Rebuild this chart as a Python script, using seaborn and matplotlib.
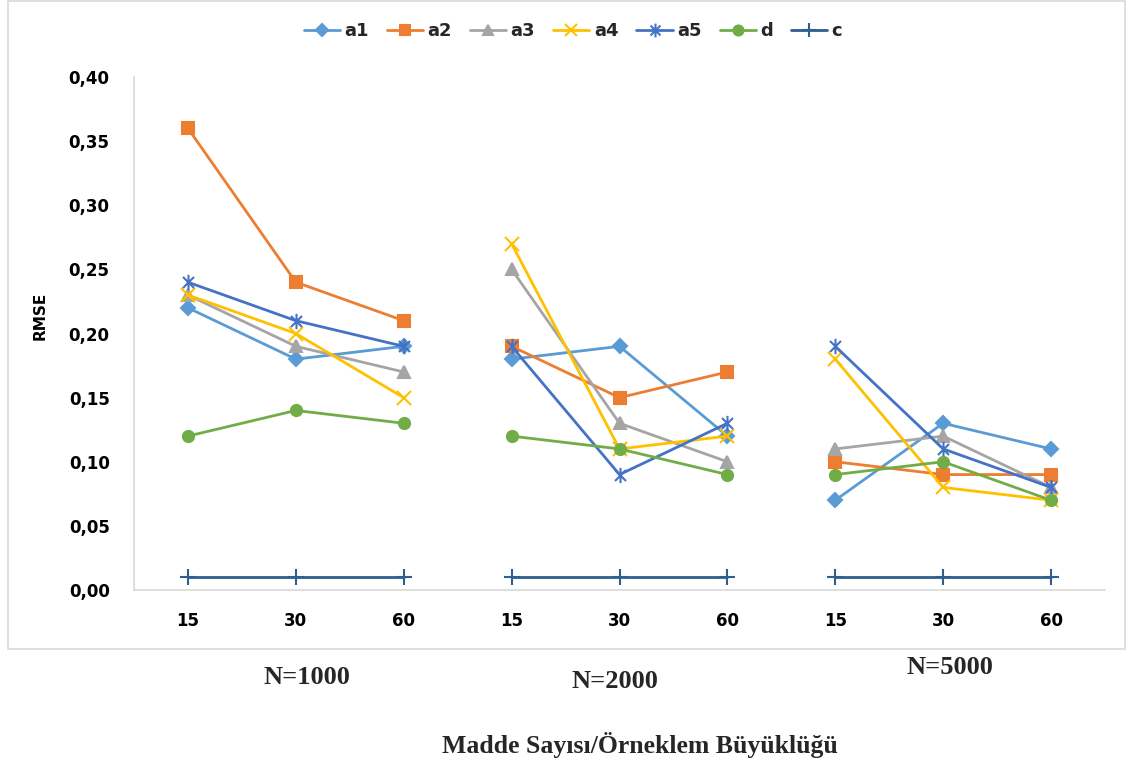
import matplotlib
matplotlib.use("Agg")
import matplotlib.pyplot as plt
from matplotlib.lines import Line2D
from matplotlib.patches import Rectangle
from matplotlib.path import Path
import numpy as np
import pandas as pd
import seaborn as sns

# Item counts within each sample-size group
items = ["15", "30", "60"]
groups = ["N=1000", "N=2000", "N=5000"]
series = ["a1", "a2", "a3", "a4", "a5", "d", "c"]

# RMSE values, one list per parameter: N=1000 | N=2000 | N=5000
a1 = [0.22, 0.18, 0.19, 0.18, 0.19, 0.12, 0.07, 0.13, 0.11]
a2 = [0.36, 0.24, 0.21, 0.19, 0.15, 0.17, 0.10, 0.09, 0.09]
a3 = [0.23, 0.19, 0.17, 0.25, 0.13, 0.10, 0.11, 0.12, 0.08]
a4 = [0.23, 0.20, 0.15, 0.27, 0.11, 0.12, 0.18, 0.08, 0.07]
a5 = [0.24, 0.21, 0.19, 0.19, 0.09, 0.13, 0.19, 0.11, 0.08]
d = [0.12, 0.14, 0.13, 0.12, 0.11, 0.09, 0.09, 0.10, 0.07]
c = [0.01, 0.01, 0.01, 0.01, 0.01, 0.01, 0.01, 0.01, 0.01]
y_ticks = [0.00, 0.05, 0.10, 0.15, 0.20, 0.25, 0.30, 0.35, 0.40]

# Asterisk marker: an "x" crossed by a vertical stroke
star = Path([(0, -1), (0, 1), (-0.72, -0.72), (0.72, 0.72), (-0.72, 0.72), (0.72, -0.72)],
            [Path.MOVETO, Path.LINETO, Path.MOVETO, Path.LINETO, Path.MOVETO, Path.LINETO])

values = {"a1": a1, "a2": a2, "a3": a3, "a4": a4, "a5": a5, "d": d, "c": c}
colors = {"a1": "#5B9BD5", "a2": "#ED7D31", "a3": "#A5A5A5", "a4": "#FFC000",
          "a5": "#4472C4", "d": "#70AD47", "c": "#2E5F8E"}
markers = {"a1": "D", "a2": "s", "a3": "^", "a4": "x", "a5": star,
           "d": "o", "c": "+"}
msizes = {"a1": 7, "a2": 8, "a3": 8.5, "a4": 10, "a5": 11, "d": 8, "c": 11}

rows = []
for s in series:
    for gi, g in enumerate(groups):
        for ii, it in enumerate(items):
            rows.append({"pos": gi * len(items) + ii, "group": g,
                         "series": s, "RMSE": values[s][gi * len(items) + ii]})
df = pd.DataFrame(rows)

sns.set_theme(style="white")
plt.rcParams["font.family"] = ["DejaVu Sans"]

fig = plt.figure(figsize=(11.28, 7.66), dpi=100)
ax = fig.add_axes([134 / 1128, 1 - 590 / 766, (1105 - 134) / 1128, (590 - 77) / 766])

# One seaborn call per series; units keep the three groups as separate lines
for s in series:
    n_before = len(ax.lines)
    sns.lineplot(data=df[df["series"] == s], x="pos", y="RMSE", units="group",
                 estimator=None, color=colors[s], marker=markers[s],
                 markersize=msizes[s], linewidth=2.0, legend=False, ax=ax)
    for ln in ax.lines[n_before:]:
        ln.set_markeredgecolor(colors[s])
        ln.set_markerfacecolor(colors[s])
        ln.set_markeredgewidth(1.5)

ax.set_xlim(-0.5, 8.5)
ax.set_ylim(0, 0.40)
ax.set_xticks(range(9))
ax.set_xticklabels(items * len(groups))
ax.set_yticks(y_ticks)
ax.set_yticklabels([f"{v:.2f}".replace(".", ",") for v in y_ticks])
ax.tick_params(axis="both", length=0, labelsize=12)
ax.tick_params(axis="y", pad=17.5)
ax.tick_params(axis="x", pad=16)
for lbl in ax.get_xticklabels() + ax.get_yticklabels():
    lbl.set_fontweight("bold")
    lbl.set_color("black")
ax.set_xlabel("")
ax.set_ylabel("")
for side in ["top", "right"]:
    ax.spines[side].set_visible(False)
for side in ["left", "bottom"]:
    ax.spines[side].set_color("#D9D9D9")
    ax.spines[side].set_linewidth(1.2)
ax.grid(False)

fig.text(40 / 1128, 1 - 316 / 766, "RMSE", rotation=90, ha="center", va="center",
         fontsize=11, fontweight="bold", color="black")

# Legend along the top
handles = [Line2D([0], [0], color=colors[s], marker=markers[s], markersize=msizes[s] * 0.9,
                  markeredgecolor=colors[s], markerfacecolor=colors[s],
                  markeredgewidth=1.5, linewidth=2.0) for s in series]
fig.legend(handles, series, loc="center", bbox_to_anchor=(0.508, 1 - 31 / 766),
           ncol=7, frameon=False, handlelength=2.0, columnspacing=1.0,
           handletextpad=0.25, prop={"weight": "bold", "size": 13})

# Chart frame
fig.patches.append(Rectangle((8 / 1128, 1 - 649 / 766), (1125 - 8) / 1128, 648 / 766,
                             transform=fig.transFigure, fill=False,
                             edgecolor="#D9D9D9", linewidth=1.2))

serif = ["Liberation Serif", "DejaVu Serif"]
group_pos = [(307, 677), (615, 682), (950, 668)]
for g, (gx, gy) in zip(groups, group_pos):
    fig.text(gx / 1128, 1 - gy / 766, g, ha="center", va="center",
             fontsize=19, fontweight="bold", family=serif)
fig.text(640 / 1128, 1 - 745 / 766, "Madde Sayısı/Örneklem Büyüklüğü",
         ha="center", va="center", fontsize=18.5, fontweight="bold", family=serif)

fig.savefig("out.png", dpi=100, facecolor="white")
